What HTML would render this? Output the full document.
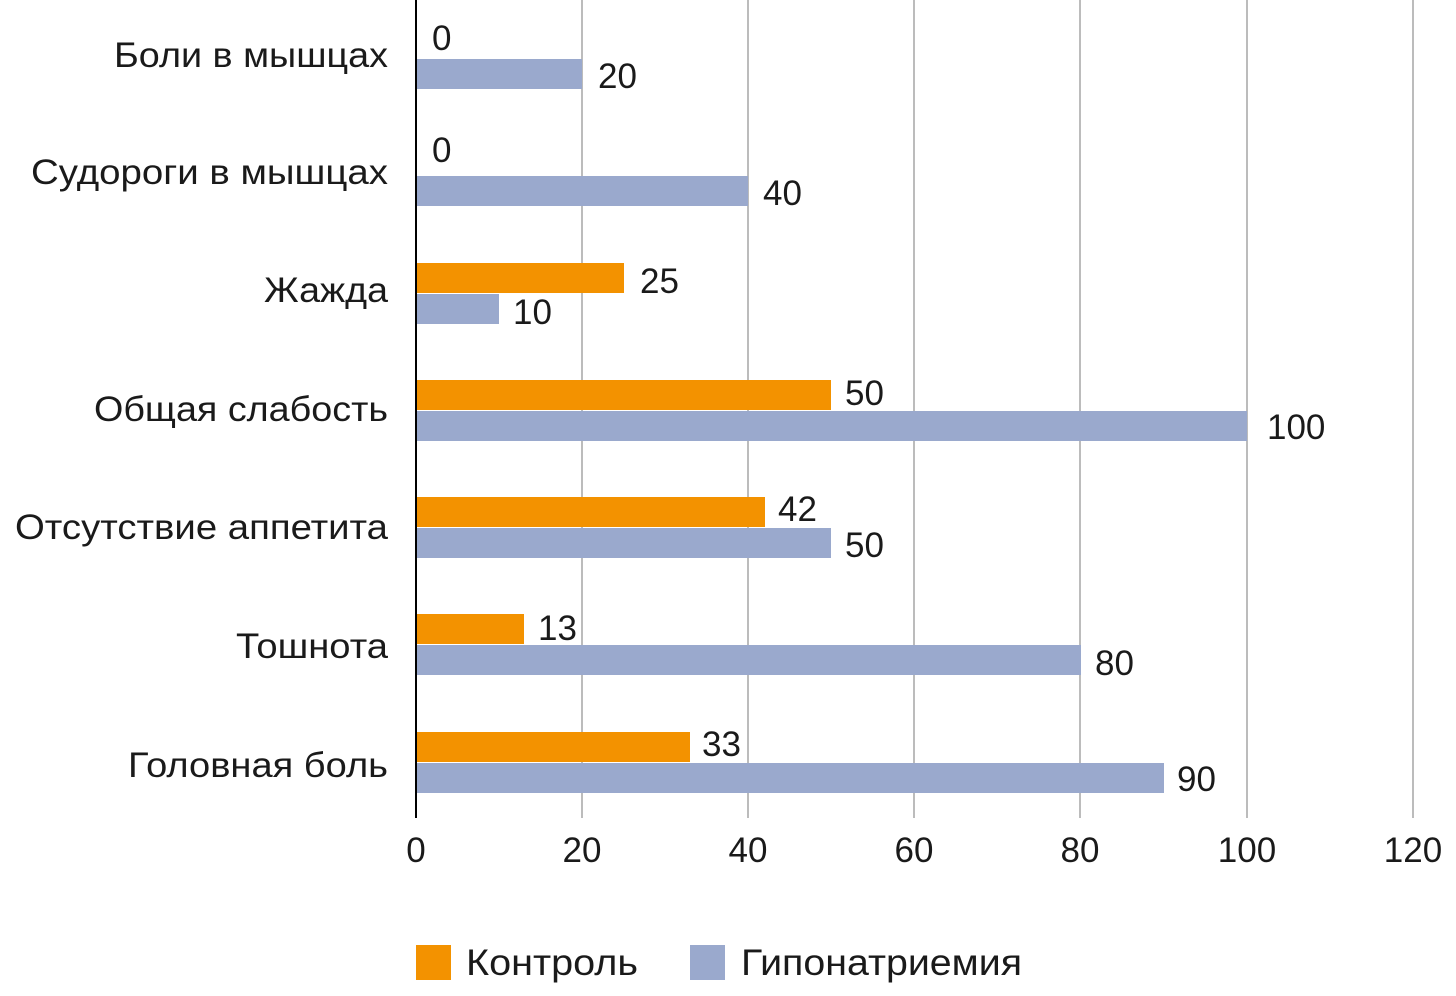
<!DOCTYPE html>
<html><head><meta charset="utf-8"><style>
html,body{margin:0;padding:0;background:#fff;}
text{font-family:"Liberation Sans",sans-serif;font-size:35px;fill:#1a1a1a;}
.c{font-size:37px;}
</style></head><body>
<svg width="1456" height="991" xmlns="http://www.w3.org/2000/svg">
<g stroke="#a6a6a6" stroke-width="1.5">
<line x1="582" y1="0" x2="582" y2="818"/><line x1="748" y1="0" x2="748" y2="818"/>
<line x1="914" y1="0" x2="914" y2="818"/><line x1="1080" y1="0" x2="1080" y2="818"/>
<line x1="1247" y1="0" x2="1247" y2="818"/><line x1="1413" y1="0" x2="1413" y2="818"/>
</g>
<g fill="#9AA9CD">
<rect x="416" y="59" width="166" height="30"/>
<rect x="416" y="176" width="332" height="30"/>
<rect x="416" y="294" width="83" height="30"/>
<rect x="416" y="411" width="831" height="30"/>
<rect x="416" y="528" width="415" height="30"/>
<rect x="416" y="645" width="665" height="30"/>
<rect x="416" y="763" width="748" height="30"/>
</g>
<g fill="#F39200">
<rect x="416" y="263" width="208" height="30"/>
<rect x="416" y="380" width="415" height="30"/>
<rect x="416" y="497" width="349" height="30"/>
<rect x="416" y="614" width="108" height="30"/>
<rect x="416" y="732" width="274" height="30"/>
</g>
<line x1="416" y1="0" x2="416" y2="818" stroke="#000" stroke-width="2"/>
<g class="c" lengthAdjust="spacingAndGlyphs">
<text x="114" y="67" textLength="274" lengthAdjust="spacingAndGlyphs">Боли в мышцах</text>
<text x="31" y="184" textLength="357" lengthAdjust="spacingAndGlyphs">Судороги в мышцах</text>
<text x="264" y="302" textLength="124" lengthAdjust="spacingAndGlyphs">Жажда</text>
<text x="94" y="421" textLength="294" lengthAdjust="spacingAndGlyphs">Общая слабость</text>
<text x="15" y="539" textLength="373" lengthAdjust="spacingAndGlyphs">Отсутствие аппетита</text>
<text x="236" y="658" textLength="152" lengthAdjust="spacingAndGlyphs">Тошнота</text>
<text x="128" y="777" textLength="260" lengthAdjust="spacingAndGlyphs">Головная боль</text>
</g>
<g>
<text x="432" y="50">0</text><text x="598" y="88">20</text>
<text x="432" y="162">0</text><text x="763" y="205">40</text>
<text x="640" y="293">25</text><text x="513" y="324">10</text>
<text x="845" y="405">50</text><text x="1267" y="439">100</text>
<text x="778" y="521">42</text><text x="845" y="557">50</text>
<text x="538" y="640">13</text><text x="1095" y="675">80</text>
<text x="702" y="756">33</text><text x="1177" y="791">90</text>
</g>
<g text-anchor="middle">
<text x="416" y="862">0</text><text x="582" y="862">20</text><text x="748" y="862">40</text>
<text x="914" y="862">60</text><text x="1080" y="862">80</text><text x="1247" y="862">100</text>
<text x="1413" y="862">120</text>
</g>
<rect x="416" y="945" width="35" height="35" fill="#F39200"/>
<text class="c" x="466" y="975" textLength="172" lengthAdjust="spacingAndGlyphs">Контроль</text>
<rect x="690" y="945" width="35" height="35" fill="#9AA9CD"/>
<text class="c" x="741" y="975" textLength="281" lengthAdjust="spacingAndGlyphs">Гипонатриемия</text>
</svg>
</body></html>
